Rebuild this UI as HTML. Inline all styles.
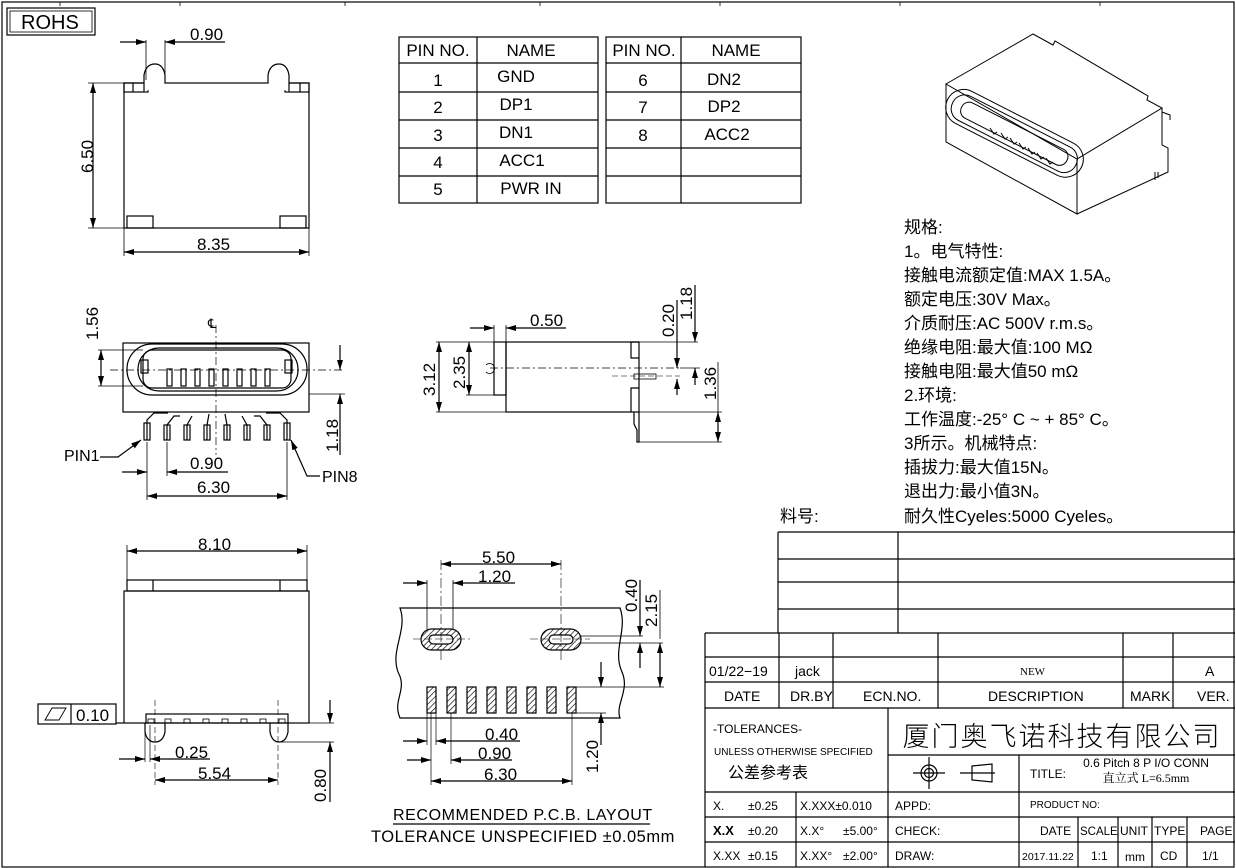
<!DOCTYPE html>
<html><head><meta charset="utf-8">
<style>
html,body{margin:0;padding:0;background:#fff;}
svg{display:block;}
text{font-family:"Liberation Sans","Noto Sans CJK SC",sans-serif;fill:#000;}
.d{font-size:17px;}
.cn{font-family:"Noto Serif CJK SC","Noto Sans CJK SC",serif;font-size:17px;}
.sr{font-family:"Liberation Serif",serif;}
</style></head><body>
<svg width="1236" height="868" viewBox="0 0 1236 868" xmlns="http://www.w3.org/2000/svg">
<defs>
<marker id="a" viewBox="0 0 10 6" refX="10" refY="3" markerWidth="10" markerHeight="6" markerUnits="userSpaceOnUse" orient="auto-start-reverse">
<path d="M0,0 L10,3 L0,6 z" fill="#000"/></marker>
<pattern id="h" width="4" height="4" patternUnits="userSpaceOnUse" patternTransform="rotate(45)">
<rect width="4" height="4" fill="#fff"/><line x1="0" y1="0" x2="0" y2="4" stroke="#000" stroke-width="1.3"/></pattern>
</defs>
<g fill="none" stroke="#000" stroke-width="1.2">
<rect x="2" y="2" width="1232" height="865"/>
<g stroke-width="0.8">
<line x1="60" y1="2" x2="60" y2="6"/><line x1="180" y1="2" x2="180" y2="6"/><line x1="345" y1="2" x2="345" y2="6"/><line x1="540" y1="2" x2="540" y2="6"/><line x1="720" y1="2" x2="720" y2="6"/><line x1="900" y1="2" x2="900" y2="6"/><line x1="1100" y1="2" x2="1100" y2="6"/>
</g>
<rect x="7" y="8" width="88" height="27"/><rect x="10" y="11" width="82" height="21" stroke-width="0.8"/>

<rect x="124" y="83" width="185" height="145"/>
<rect x="124" y="83" width="24" height="9"/><line x1="133" y1="83" x2="133" y2="92"/>
<rect x="285" y="83" width="24" height="9"/><line x1="300" y1="83" x2="300" y2="92"/>
<path d="M144 92 L144 75 Q146 64 155 64 Q163 64 165 75 L165 83" fill="#fff"/>
<path d="M268 83 L268 75 Q270 64 279 64 Q287 64 289 75 L289 92" fill="#fff"/>
<rect x="127" y="216" width="26" height="12"/><rect x="280" y="216" width="26" height="12"/>
<line x1="146" y1="40" x2="146" y2="80" stroke-width="0.8"/><line x1="165" y1="40" x2="165" y2="80" stroke-width="0.8"/>
<line x1="120" y1="42" x2="146" y2="42" marker-end="url(#a)"/><line x1="225" y1="42" x2="165" y2="42" marker-end="url(#a)"/>
<line x1="88" y1="83" x2="124" y2="83" stroke-width="0.8"/><line x1="88" y1="228" x2="124" y2="228" stroke-width="0.8"/>
<line x1="93" y1="83" x2="93" y2="228" marker-start="url(#a)" marker-end="url(#a)"/>
<line x1="124" y1="228" x2="124" y2="256" stroke-width="0.8"/><line x1="309" y1="228" x2="309" y2="256" stroke-width="0.8"/>
<line x1="124" y1="252" x2="309" y2="252" marker-start="url(#a)" marker-end="url(#a)"/>

<rect x="123" y="343" width="186" height="69"/>
<rect x="127" y="344" width="180" height="51" rx="25"/>
<rect x="138" y="348" width="160" height="43" rx="21"/>
<rect x="143" y="350" width="148" height="38" rx="9"/>
<rect x="141" y="360" width="7" height="13"/><rect x="285" y="360" width="7" height="13"/>
<g>
<rect x="167" y="369" width="5" height="17"/><rect x="181" y="369" width="5" height="17"/><rect x="195" y="369" width="5" height="17"/><rect x="209" y="369" width="5" height="17"/><rect x="223" y="369" width="5" height="17"/><rect x="237" y="369" width="5" height="17"/><rect x="251" y="369" width="5" height="17"/><rect x="265" y="369" width="5" height="17"/>
</g>
<g>
<path d="M147 440 V420 L154 413 H168"/><rect x="144" y="423" width="6" height="17"/>
<path d="M167 440 V425 L174 416 H180"/><rect x="164" y="425" width="6" height="15"/>
<path d="M187 440 V425 L192 416"/><rect x="184" y="425" width="6" height="15"/>
<path d="M207 440 V425 L209 414"/><rect x="204" y="425" width="6" height="15"/>
<path d="M227 440 V425 L225 414"/><rect x="224" y="425" width="6" height="15"/>
<path d="M247 440 V425 L242 416"/><rect x="244" y="425" width="6" height="15"/>
<path d="M267 440 V425 L260 416 H254"/><rect x="264" y="425" width="6" height="15"/>
<path d="M287 440 V420 L280 413 H266"/><rect x="284" y="423" width="6" height="17"/>
</g>
<line x1="216" y1="325" x2="216" y2="455" stroke-width="0.7" stroke-dasharray="8 3 2 3"/>
<line x1="110" y1="370" x2="345" y2="370" stroke-width="0.7" stroke-dasharray="8 3 2 3"/>
<line x1="98" y1="350" x2="143" y2="350" stroke-width="0.8"/><line x1="98" y1="386" x2="143" y2="386" stroke-width="0.8"/>
<line x1="101" y1="350" x2="101" y2="386" marker-start="url(#a)" marker-end="url(#a)"/>
<line x1="309" y1="394" x2="345" y2="394" stroke-width="0.8"/>
<line x1="340" y1="345" x2="340" y2="370" marker-end="url(#a)"/><line x1="340" y1="455" x2="340" y2="394" marker-end="url(#a)"/>
<line x1="147" y1="442" x2="147" y2="500" stroke-width="0.8"/><line x1="167" y1="442" x2="167" y2="476" stroke-width="0.8"/><line x1="287" y1="442" x2="287" y2="500" stroke-width="0.8"/>
<line x1="122" y1="472" x2="147" y2="472" marker-end="url(#a)"/><line x1="228" y1="472" x2="167" y2="472" marker-end="url(#a)"/>
<line x1="147" y1="496" x2="287" y2="496" marker-start="url(#a)" marker-end="url(#a)"/>
<polyline points="100,457 118,457 141,440" marker-end="url(#a)"/>
<polyline points="320,476 307,476 291,440" marker-end="url(#a)"/>

<rect x="494" y="342" width="12" height="53"/>
<rect x="506" y="342" width="133" height="70"/>
<path d="M639 342 H631 V358 H639"/><path d="M639 388 H631 V412"/>
<path d="M634 412 V424 L637 430 V442 H639 V412" />
<line x1="490" y1="368" x2="680" y2="368" stroke-width="0.7" stroke-dasharray="8 3 2 3"/>
<rect x="634" y="374" width="22" height="5" stroke-width="0.8"/><line x1="612" y1="376" x2="680" y2="376" stroke-width="0.6" stroke-dasharray="6 3"/>
<path d="M486 365 a5 5 0 1 1 0 7" stroke-width="0.8"/>
<line x1="494" y1="325" x2="494" y2="342" stroke-width="0.8"/><line x1="506" y1="325" x2="506" y2="342" stroke-width="0.8"/>
<line x1="470" y1="328" x2="494" y2="328" marker-end="url(#a)"/><line x1="566" y1="328" x2="506" y2="328" marker-end="url(#a)"/>
<line x1="436" y1="342" x2="494" y2="342" stroke-width="0.8"/><line x1="436" y1="412" x2="506" y2="412" stroke-width="0.8"/><line x1="466" y1="395" x2="494" y2="395" stroke-width="0.8"/>
<line x1="439" y1="342" x2="439" y2="412" marker-start="url(#a)" marker-end="url(#a)"/>
<line x1="469" y1="342" x2="469" y2="395" marker-start="url(#a)" marker-end="url(#a)"/>
<line x1="639" y1="342" x2="698" y2="342" stroke-width="0.8"/>
<line x1="695" y1="285" x2="695" y2="342" marker-end="url(#a)"/>
<line x1="677" y1="300" x2="677" y2="368" marker-end="url(#a)"/><line x1="677" y1="395" x2="677" y2="379" marker-end="url(#a)"/>
<line x1="680" y1="368" x2="700" y2="368" stroke-width="0.8"/>
<line x1="695" y1="385" x2="695" y2="368" marker-end="url(#a)"/>
<line x1="639" y1="412" x2="722" y2="412" stroke-width="0.8"/><line x1="639" y1="442" x2="722" y2="442" stroke-width="0.8"/>
<line x1="718" y1="412" x2="718" y2="442" marker-start="url(#a)" marker-end="url(#a)"/>
<line x1="718" y1="362" x2="718" y2="412" stroke-width="0.8"/>

<rect x="399" y="37" width="199" height="166"/>
<line x1="477" y1="37" x2="477" y2="203"/>
<line x1="399" y1="63" x2="598" y2="63"/><line x1="399" y1="92" x2="598" y2="92"/><line x1="399" y1="120" x2="598" y2="120"/><line x1="399" y1="148" x2="598" y2="148"/><line x1="399" y1="176" x2="598" y2="176"/>
<rect x="606" y="37" width="195" height="166"/>
<line x1="681" y1="37" x2="681" y2="203"/>
<line x1="606" y1="63" x2="801" y2="63"/><line x1="606" y1="92" x2="801" y2="92"/><line x1="606" y1="120" x2="801" y2="120"/><line x1="606" y1="148" x2="801" y2="148"/><line x1="606" y1="176" x2="801" y2="176"/>

<g stroke-width="1">
<path d="M946 84 L1033 34 L1053 45 L1055 41 L1148 96 L1147 100 L1162 108 L1077 159 Z" fill="#fff"/>
<path d="M946 84 L946 142 L1077 214 L1077 159"/>
<path d="M1077 214 L1168 172 L1168 148 L1162 145 L1162 108"/>
<path d="M1162 112 L1170 115 L1170 120"/><path d="M1155 172 V180 M1158 172 V178"/>
<rect x="946" y="114" width="150" height="36" rx="18" transform="rotate(27 1010 140) translate(-10 0)"/>
<rect x="952" y="119" width="138" height="27" rx="13" transform="rotate(27 1010 140) translate(-10 0)"/>
<rect x="962" y="124" width="118" height="17" rx="8" transform="rotate(27 1010 140) translate(-10 0)"/>
<path d="M990 128 l4 6 l3 -2 M1001 133 l4 6 l3 -2 M1010 138 l4 6 l3 -2 M1019 143 l4 6 l3 -2 M1028 148 l4 6 l3 -2 M1037 153 l4 6 l3 -2 M1046 158 l4 6 l3 -2"/>
</g>

<path d="M400 608 H620 C628 630 612 650 622 672 C630 690 615 705 620 718 H400 C392 700 408 690 398 672 C390 650 408 630 400 608 Z"/>
<rect x="421" y="629" width="40" height="21" rx="10.5" fill="url(#h)"/><rect x="429" y="635" width="24" height="9" rx="4.5" fill="#fff"/>
<rect x="541" y="629" width="40" height="21" rx="10.5" fill="url(#h)"/><rect x="549" y="635" width="24" height="9" rx="4.5" fill="#fff"/>
<line x1="413" y1="639" x2="470" y2="639" stroke-width="0.6" stroke-dasharray="8 3"/><line x1="530" y1="639" x2="590" y2="639" stroke-width="0.6" stroke-dasharray="8 3"/>
<line x1="441" y1="560" x2="441" y2="660" stroke-width="0.6" stroke-dasharray="10 3 2 3"/><line x1="561" y1="560" x2="561" y2="660" stroke-width="0.6" stroke-dasharray="10 3 2 3"/>
<g fill="url(#h)">
<rect x="427" y="687" width="9" height="26"/><rect x="447" y="687" width="9" height="26"/><rect x="467" y="687" width="9" height="26"/><rect x="487" y="687" width="9" height="26"/><rect x="507" y="687" width="9" height="26"/><rect x="527" y="687" width="9" height="26"/><rect x="547" y="687" width="9" height="26"/><rect x="567" y="687" width="9" height="26"/>
</g>
<line x1="427" y1="580" x2="427" y2="629" stroke-width="0.8"/><line x1="453" y1="580" x2="453" y2="629" stroke-width="0.8"/>
<line x1="441" y1="564" x2="561" y2="564" marker-start="url(#a)" marker-end="url(#a)"/>
<line x1="403" y1="583" x2="427" y2="583" marker-end="url(#a)"/><line x1="515" y1="583" x2="453" y2="583" marker-end="url(#a)"/>
<line x1="581" y1="636" x2="643" y2="636" stroke-width="0.8"/><line x1="581" y1="643" x2="663" y2="643" stroke-width="0.8"/>
<line x1="640" y1="580" x2="640" y2="636" marker-end="url(#a)"/><line x1="640" y1="668" x2="640" y2="643" marker-end="url(#a)"/>
<line x1="660" y1="590" x2="660" y2="639" stroke-width="0.8"/>
<line x1="660" y1="643" x2="660" y2="687" marker-start="url(#a)" marker-end="url(#a)"/>
<line x1="576" y1="687" x2="664" y2="687" stroke-width="0.8"/><line x1="576" y1="713" x2="606" y2="713" stroke-width="0.8"/>
<line x1="601" y1="662" x2="601" y2="687" marker-end="url(#a)"/><line x1="601" y1="745" x2="601" y2="713" marker-end="url(#a)"/>
<line x1="427" y1="713" x2="427" y2="745" stroke-width="0.7"/><line x1="431" y1="713" x2="431" y2="785" stroke-width="0.7"/><line x1="436" y1="713" x2="436" y2="745" stroke-width="0.7"/><line x1="451" y1="713" x2="451" y2="764" stroke-width="0.7"/><line x1="572" y1="713" x2="572" y2="785" stroke-width="0.7"/>
<line x1="403" y1="741" x2="427" y2="741" marker-end="url(#a)"/><line x1="520" y1="741" x2="436" y2="741" marker-end="url(#a)"/>
<line x1="407" y1="760" x2="431" y2="760" marker-end="url(#a)"/><line x1="512" y1="760" x2="451" y2="760" marker-end="url(#a)"/>
<line x1="431" y1="781" x2="572" y2="781" marker-start="url(#a)" marker-end="url(#a)"/>
<line x1="393" y1="824" x2="650" y2="824"/>

<rect x="127" y="580" width="180" height="11"/><line x1="153" y1="580" x2="153" y2="591"/><line x1="280" y1="580" x2="280" y2="591"/>
<rect x="124" y="591" width="185" height="132"/>
<rect x="146" y="714" width="142" height="9"/>
<g stroke-width="0.8"><rect x="148" y="719" width="6" height="4"/><rect x="165" y="719" width="6" height="4"/><rect x="184" y="719" width="6" height="4"/><rect x="203" y="719" width="6" height="4"/><rect x="222" y="719" width="6" height="4"/><rect x="241" y="719" width="6" height="4"/><rect x="260" y="719" width="6" height="4"/><rect x="279" y="719" width="6" height="4"/></g>
<path d="M145 723 V732 Q147 742 155 742 Q163 742 165 732 V723"/>
<path d="M270 723 V732 Q272 742 279 742 Q286 742 288 732 V723"/>
<line x1="155" y1="700" x2="155" y2="785" stroke-width="0.6" stroke-dasharray="6 3"/><line x1="278" y1="700" x2="278" y2="785" stroke-width="0.6" stroke-dasharray="6 3"/>
<line x1="127" y1="545" x2="127" y2="580" stroke-width="0.8"/><line x1="307" y1="545" x2="307" y2="580" stroke-width="0.8"/>
<line x1="127" y1="551" x2="307" y2="551" marker-start="url(#a)" marker-end="url(#a)"/>
<rect x="38" y="704" width="78" height="20"/><line x1="71" y1="704" x2="71" y2="724"/>
<path d="M45 720 L52 708 H66 L59 720 Z" stroke-width="0.9"/>
<line x1="116" y1="723" x2="124" y2="723"/>
<line x1="145" y1="725" x2="145" y2="762" stroke-width="0.7"/><line x1="150" y1="725" x2="150" y2="762" stroke-width="0.7"/>
<line x1="119" y1="759" x2="145" y2="759" marker-end="url(#a)"/><line x1="210" y1="759" x2="150" y2="759" marker-end="url(#a)"/>
<line x1="155" y1="780" x2="278" y2="780" marker-start="url(#a)" marker-end="url(#a)"/>
<line x1="309" y1="723" x2="334" y2="723" stroke-width="0.8"/><line x1="280" y1="742" x2="334" y2="742" stroke-width="0.8"/>
<line x1="330" y1="700" x2="330" y2="723" marker-end="url(#a)"/><line x1="330" y1="802" x2="330" y2="742" marker-end="url(#a)"/>

<line x1="778" y1="532" x2="1235" y2="532"/><line x1="778" y1="559" x2="1235" y2="559"/><line x1="778" y1="582" x2="1235" y2="582"/><line x1="778" y1="609" x2="1235" y2="609"/>
<line x1="778" y1="532" x2="778" y2="633"/><line x1="898" y1="532" x2="898" y2="633"/>

<line x1="705" y1="633" x2="1235" y2="633"/><line x1="705" y1="633" x2="705" y2="867"/>
<line x1="705" y1="657" x2="1235" y2="657"/><line x1="705" y1="682" x2="1235" y2="682"/><line x1="705" y1="708" x2="1235" y2="708"/>
<line x1="779" y1="633" x2="779" y2="708"/><line x1="833" y1="633" x2="833" y2="708"/><line x1="938" y1="633" x2="938" y2="708"/><line x1="1123" y1="633" x2="1123" y2="708"/><line x1="1173" y1="633" x2="1173" y2="708"/>
<line x1="888" y1="708" x2="888" y2="867"/>
<line x1="888" y1="755" x2="1235" y2="755"/>
<line x1="705" y1="792" x2="1235" y2="792"/><line x1="705" y1="817" x2="1235" y2="817"/><line x1="705" y1="842" x2="1235" y2="842"/>
<line x1="796" y1="792" x2="796" y2="867"/>
<line x1="1019" y1="755" x2="1019" y2="867"/>
<line x1="1078" y1="817" x2="1078" y2="867"/><line x1="1118" y1="817" x2="1118" y2="867"/><line x1="1152" y1="817" x2="1152" y2="867"/><line x1="1187" y1="817" x2="1187" y2="867"/>
<circle cx="929" cy="773" r="8"/><circle cx="929" cy="773" r="4.5"/><line x1="913" y1="773" x2="945" y2="773"/><line x1="929" y1="757" x2="929" y2="789"/>
<path d="M960 773 H995 M972 766 L992 764 V782 L972 780 Z"/>
</g>

<g class="d">
<text x="21" y="29" font-size="20">ROHS</text>
<text x="190" y="40">0.90</text>
<text x="197" y="250">8.35</text>
<text transform="translate(93,173) rotate(-90)">6.50</text>
<text transform="translate(98,340) rotate(-90)">1.56</text>
<text x="208" y="328" font-size="13">℄</text>
<text transform="translate(338,452) rotate(-90)">1.18</text>
<text x="190" y="469">0.90</text>
<text x="197" y="493">6.30</text>
<text x="64" y="461" font-size="16">PIN1</text>
<text x="322" y="482" font-size="16">PIN8</text>
<text x="530" y="326">0.50</text>
<text transform="translate(435,396) rotate(-90)">3.12</text>
<text transform="translate(465,389) rotate(-90)">2.35</text>
<text transform="translate(674,337) rotate(-90)">0.20</text>
<text transform="translate(692,320) rotate(-90)">1.18</text>
<text transform="translate(716,400) rotate(-90)">1.36</text>
<text x="482" y="563">5.50</text>
<text x="478" y="582">1.20</text>
<text transform="translate(637,612) rotate(-90)">0.40</text>
<text transform="translate(657,627) rotate(-90)">2.15</text>
<text transform="translate(598,773) rotate(-90)">1.20</text>
<text x="485" y="740">0.40</text>
<text x="478" y="759">0.90</text>
<text x="484" y="780">6.30</text>
<text x="393" y="820" font-size="16" letter-spacing="0.6">RECOMMENDED   P.C.B.   LAYOUT</text>
<text x="371" y="842" font-size="16.5" letter-spacing="0.5">TOLERANCE  UNSPECIFIED  ±0.05mm</text>
<text x="198" y="550">8.10</text>
<text x="76" y="721">0.10</text>
<text x="175" y="758">0.25</text>
<text x="198" y="779">5.54</text>
<text transform="translate(326,802) rotate(-90)">0.80</text>
</g>
<g font-size="17" text-anchor="middle">
<text x="438" y="56">PIN NO.</text><text x="531" y="56">NAME</text>
<text x="644" y="56">PIN NO.</text><text x="736" y="56">NAME</text>
<text x="438" y="86">1</text><text x="516" y="82">GND</text>
<text x="438" y="113">2</text><text x="516" y="110">DP1</text>
<text x="438" y="141">3</text><text x="516" y="138">DN1</text>
<text x="438" y="168">4</text><text x="522" y="166">ACC1</text>
<text x="438" y="195">5</text><text x="531" y="194">PWR  IN</text>
<text x="643" y="86">6</text><text x="724" y="85">DN2</text>
<text x="643" y="113">7</text><text x="724" y="112">DP2</text>
<text x="643" y="141">8</text><text x="727" y="140">ACC2</text>
</g>
<g class="cn">
<text x="904" y="233">规格:</text>
<text x="904" y="257">1。电气特性:</text>
<text x="904" y="281">接触电流额定值:MAX 1.5A。</text>
<text x="904" y="305">额定电压:30V Max。</text>
<text x="904" y="329">介质耐压:AC 500V r.m.s。</text>
<text x="904" y="353">绝缘电阻:最大值:100 MΩ</text>
<text x="904" y="377">接触电阻:最大值50 mΩ</text>
<text x="904" y="401">2.环境:</text>
<text x="904" y="425">工作温度:-25° C ~ + 85° C。</text>
<text x="904" y="449">3所示。机械特点:</text>
<text x="904" y="473">插拔力:最大值15N。</text>
<text x="904" y="497">退出力:最小值3N。</text>
<text x="904" y="522">耐久性Cyeles:5000 Cyeles。</text>
<text x="780" y="522">料号:</text>
</g>
<g font-size="14">
<text x="709" y="676">01/22−19</text>
<text x="795" y="676">jack</text>
<text x="1020" y="675" class="sr" font-size="11">NEW</text>
<text x="1205" y="676">A</text>
<text x="724" y="701">DATE</text>
<text x="790" y="701">DR.BY</text>
<text x="863" y="701">ECN.NO.</text>
<text x="988" y="701">DESCRIPTION</text>
<text x="1130" y="701">MARK</text>
<text x="1197" y="701">VER.</text>
</g>
<g class="sr" font-size="12" fill="#333">
<text x="713" y="733">-TOLERANCES-</text>
<text x="714" y="755" font-size="10">UNLESS OTHERWISE SPECIFIED</text>
<text x="713" y="810">X.</text><text x="748" y="810">±0.25</text>
<text x="800" y="810">X.XXX±0.010</text>
<text x="713" y="835" font-weight="bold" font-size="13">X.X</text><text x="748" y="835">±0.20</text>
<text x="800" y="835">X.X°</text><text x="843" y="835">±5.00°</text>
<text x="713" y="860">X.XX</text><text x="748" y="860">±0.15</text>
<text x="800" y="860">X.XX°</text><text x="843" y="860">±2.00°</text>
<text x="895" y="810">APPD:</text>
<text x="895" y="835">CHECK:</text>
<text x="895" y="860">DRAW:</text>
<text x="1030" y="808" font-size="10">PRODUCT NO:</text>
<text x="1030" y="778">TITLE:</text>
<text x="1040" y="835">DATE</text><text x="1080" y="835" font-size="11.5">SCALE</text><text x="1120" y="835">UNIT</text><text x="1154" y="835">TYPE</text><text x="1200" y="835">PAGE</text>
<text x="1022" y="860" font-size="10.5">2017.11.22</text><text x="1091" y="860">1:1</text><text x="1125" y="861">mm</text><text x="1160" y="860">CD</text><text x="1202" y="860">1/1</text>
<text x="1146" y="767" text-anchor="middle">0.6 Pitch 8 P I/O CONN</text>
</g>
<text x="1146" y="782" text-anchor="middle" font-size="12" style="font-family:'Liberation Serif','Noto Serif CJK SC',serif">直立式 L=6.5mm</text>
<text x="768" y="778" text-anchor="middle" font-size="16" style="font-family:'Noto Sans CJK SC',sans-serif">公差参考表</text>
<text x="1062" y="746" text-anchor="middle" font-size="27" style="font-family:'Noto Sans CJK SC',sans-serif;font-weight:300" letter-spacing="2">厦门奥飞诺科技有限公司</text>
</svg>
</body></html>
